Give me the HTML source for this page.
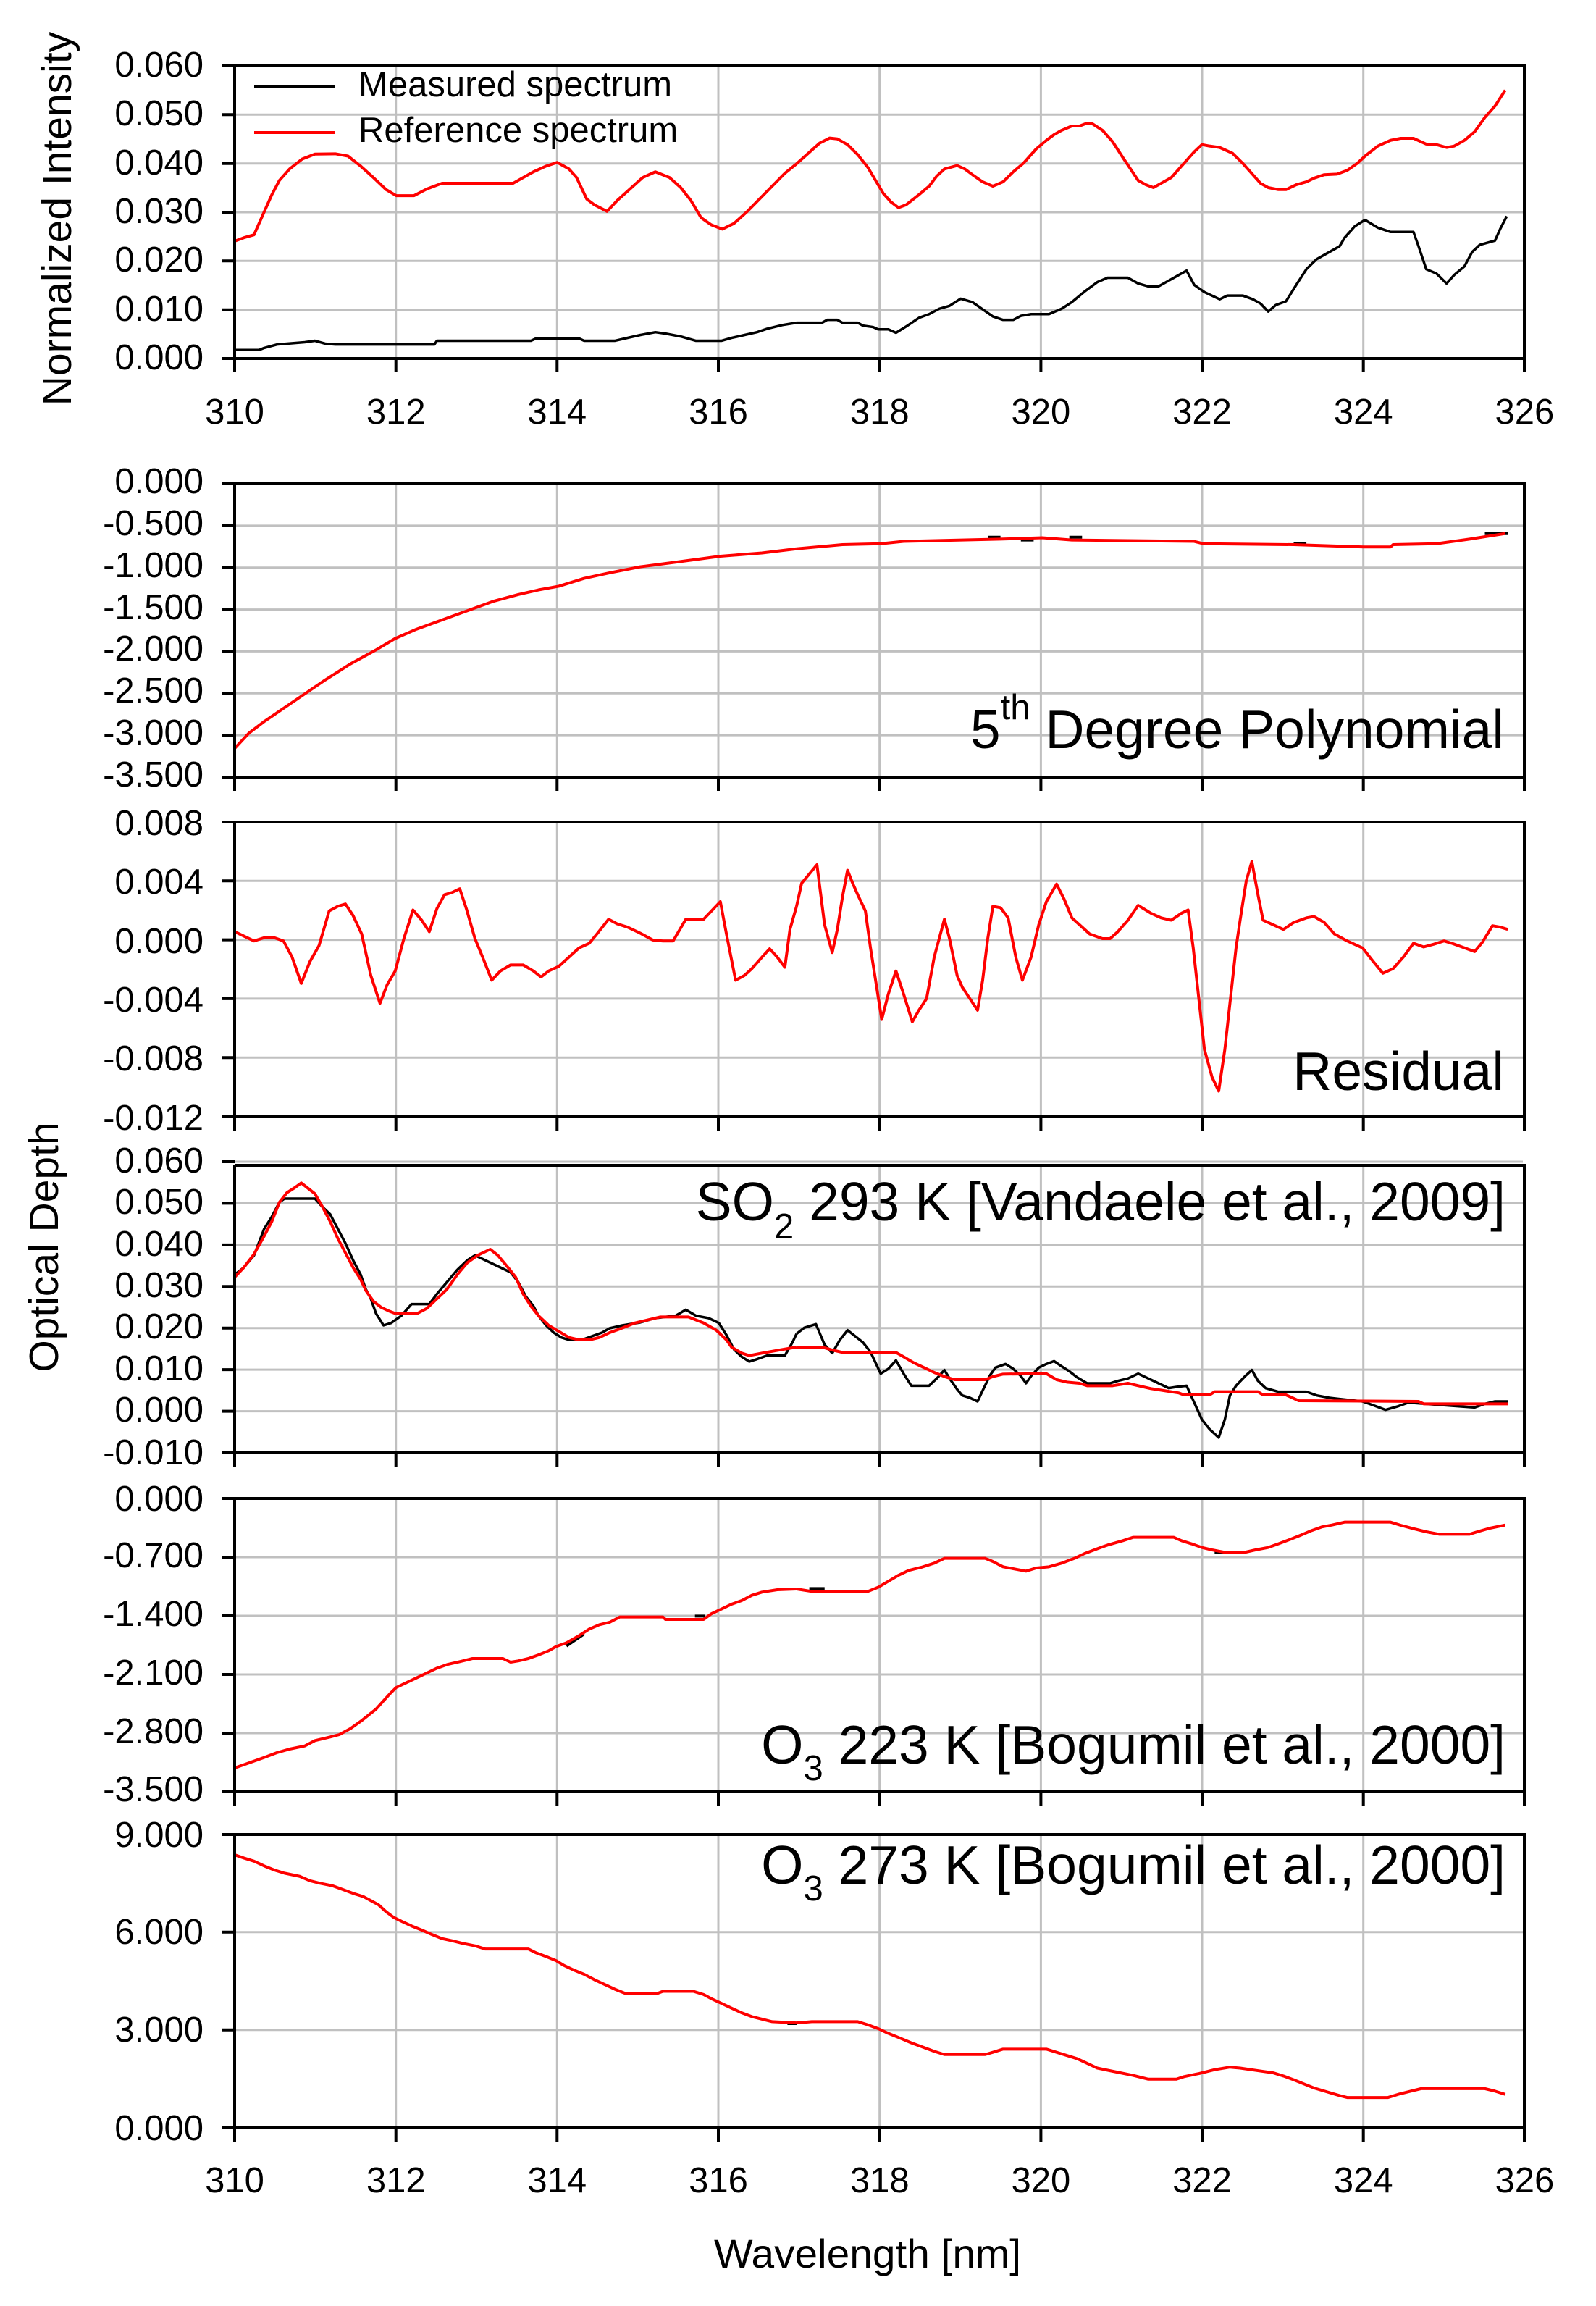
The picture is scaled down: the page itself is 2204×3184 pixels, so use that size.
<!DOCTYPE html>
<html><head><meta charset="utf-8"><style>
html,body{margin:0;padding:0;background:#fff}
svg{display:block}
text{font-family:"Liberation Sans",Arial,sans-serif;fill:#000}
.g{stroke:#c0c0c0;stroke-width:3;fill:none}
.ax{stroke:#000;stroke-width:4;fill:none}
.r{stroke:#ff0000;stroke-width:4;fill:none;stroke-linejoin:round;vector-effect:non-scaling-stroke}
.k{stroke:#000;stroke-width:3.5;fill:none;stroke-linejoin:round;vector-effect:non-scaling-stroke}
.yl{font-size:49px;text-anchor:end}
.xl{font-size:49px;text-anchor:middle}
.ann{font-size:75px;text-anchor:end}
</style></head><body>
<svg width="2204" height="3184" viewBox="0 0 2204 3184" xmlns="http://www.w3.org/2000/svg">
<rect width="2204" height="3184" fill="#fff"/>

<g class="g">
<path d="M546.7 91V495M769.3 91V495M992 91V495M1214.7 91V495M1437.4 91V495M1660 91V495M1882.7 91V495"/>
<path d="M546.7 668V1073M769.3 668V1073M992 668V1073M1214.7 668V1073M1437.4 668V1073M1660 668V1073M1882.7 668V1073"/>
<path d="M546.7 1135V1541M769.3 1135V1541M992 1135V1541M1214.7 1135V1541M1437.4 1135V1541M1660 1135V1541M1882.7 1135V1541"/>
<path d="M546.7 1609V2006M769.3 1609V2006M992 1609V2006M1214.7 1609V2006M1437.4 1609V2006M1660 1609V2006M1882.7 1609V2006"/>
<path d="M546.7 2069V2474M769.3 2069V2474M992 2069V2474M1214.7 2069V2474M1437.4 2069V2474M1660 2069V2474M1882.7 2069V2474"/>
<path d="M546.7 2533V2937M769.3 2533V2937M992 2533V2937M1214.7 2533V2937M1437.4 2533V2937M1660 2533V2937M1882.7 2533V2937"/>
<path d="M324 158.3H2105M324 225.7H2105M324 293H2105M324 360.3H2105M324 427.7H2105"/>
<path d="M324 725.9H2105M324 783.7H2105M324 841.6H2105M324 899.4H2105M324 957.3H2105M324 1015.1H2105"/>
<path d="M324 1216.3H2105M324 1297.6H2105M324 1378.9H2105M324 1460.2H2105"/>
<path d="M324 1604H2103M324 1661.4H2105M324 1718.9H2105M324 1776.3H2105M324 1833.7H2105M324 1891.1H2105M324 1948.6H2105"/>
<path d="M324 2150H2105M324 2231H2105M324 2312H2105M324 2393H2105"/>
<path d="M324 2667.8H2105M324 2802.7H2105"/>
</g>

<g transform="matrix(0.70153 0 0 0.39541 0 0)">
<polyline class="k" points="462,1222 510,1222 520,1215 545,1203 600,1195 620,1190 640,1200 660,1203 855,1203 860,1190 1045,1190 1055,1182 1140,1182 1150,1190 1210,1190 1230,1182 1260,1170 1290,1160 1310,1165 1340,1175 1370,1190 1420,1190 1440,1180 1465,1170 1490,1160 1510,1148 1540,1135 1568,1127"/>
<polyline class="r" points="462,842 480,830 500,820 520,740 535,680 550,630 570,590 595,555 620,538 660,537 685,545 710,580 735,620 760,662 780,683 815,683 840,660 870,640 1010,640 1030,620 1050,600 1075,580 1097,567 1120,590 1135,620 1155,695 1170,715 1195,738 1215,700 1240,660 1265,620 1290,600 1318,620 1340,655 1360,700 1380,760 1400,785 1422,800 1445,780 1470,740 1495,695 1520,650 1545,605 1568,572"/>
</g>
<g transform="matrix(0.70408 0 0 0.39541 1100 0)">
<polyline class="k" points="0,1127 50,1127 60,1117 80,1117 90,1127 120,1127 130,1137 150,1142 160,1150 180,1150 195,1162 215,1140 240,1110 260,1097 280,1078 300,1068 322,1043 345,1055 365,1080 385,1105 405,1117 425,1117 440,1103 460,1097 495,1097 520,1078 540,1055 565,1018 590,985 610,970 650,970 670,990 690,1000 710,1000 730,980 745,965 765,945 780,995 800,1020 830,1045 845,1032 875,1032 895,1045 910,1060 925,1088 940,1065 960,1052 980,995 1000,940 1020,905 1040,885 1065,860 1075,830 1095,790 1115,768 1140,795 1165,810 1210,810 1220,860 1235,940 1255,955 1275,990 1290,960 1310,930 1325,880 1340,855 1370,840 1380,800 1393,755"/>
<polyline class="r" points="0,572 20,540 45,500 65,482 80,485 100,505 120,540 140,585 155,630 170,675 185,705 200,725 215,715 240,680 260,650 275,615 290,590 315,578 330,590 345,610 365,635 385,650 405,635 425,600 445,570 470,520 490,490 505,470 520,455 540,440 555,440 570,430 580,432 600,455 620,495 640,550 655,590 670,630 685,645 700,655 715,640 735,620 760,570 780,530 795,505 810,510 830,515 855,535 875,570 895,610 910,640 925,655 945,662 960,662 980,645 1000,635 1015,622 1035,610 1060,608 1080,595 1100,570 1115,545 1140,510 1165,490 1185,483 1210,483 1235,503 1255,505 1275,515 1290,510 1310,490 1330,460 1350,410 1370,370 1390,315"/>
</g>

<g transform="matrix(0.70408 0 0 0.63776 1100 620)">
<path class="k" d="M375 191H400M440 197H465M535 191H560M975 205H1000M1350 183H1395" style="stroke-width:4"/>
</g>
<g transform="matrix(0.70153 0 0 0.63776 0 620)">
<polyline class="r" points="462,648 490,615 520,590 560,560 600,530 640,500 690,465 740,435 778,410 820,390 870,370 920,350 970,330 1020,315 1060,305 1100,297 1150,280 1200,268 1260,255 1330,245 1418,232 1500,225 1568,216"/>
</g>
<g transform="matrix(0.70408 0 0 0.63776 1100 620)">
<polyline class="r" points="0,216 90,207 165,205 210,200 400,195 482,192 540,197 780,200 798,205 975,207 1113,212 1165,212 1170,207 1255,205 1320,195 1390,183"/>
</g>

<g transform="matrix(0.70153 0 0 0.63776 0 620)">
<polyline class="r" points="462,1045 500,1065 520,1058 540,1058 558,1065 575,1100 593,1157 610,1110 628,1075 648,1000 665,990 680,985 695,1010 712,1050 730,1140 748,1200 762,1160 778,1130 795,1060 813,998 830,1020 845,1045 860,995 875,965 890,960 905,952 918,995 935,1060 950,1100 968,1150 985,1130 1005,1117 1030,1117 1050,1130 1065,1143 1080,1130 1100,1120 1120,1100 1140,1080 1160,1070 1175,1050 1198,1018 1215,1028 1235,1035 1260,1048 1285,1063 1305,1065 1325,1065 1350,1018 1385,1018 1418,980 1430,1050 1448,1150 1465,1140 1480,1125 1500,1100 1515,1082 1530,1100 1545,1122 1555,1040 1568,990"/>
</g>
<g transform="matrix(0.70408 0 0 0.63776 1100 620)">
<polyline class="r" points="0,990 10,940 25,920 40,900 55,1030 70,1090 80,1040 90,970 100,912 110,940 120,965 135,1000 145,1080 155,1150 167,1235 180,1180 195,1130 210,1180 227,1240 240,1215 255,1190 270,1100 290,1018 300,1060 315,1140 325,1165 340,1190 355,1215 365,1150 375,1060 385,990 400,993 415,1015 430,1100 443,1150 460,1100 475,1030 490,980 510,942 525,975 540,1015 555,1030 575,1050 600,1060 615,1060 630,1045 650,1020 670,988 695,1005 715,1015 735,1020 755,1005 768,998 778,1080 790,1200 800,1300 815,1360 828,1390 840,1300 850,1200 862,1080 870,1020 882,935 893,893 905,965 915,1020 935,1030 955,1040 975,1025 1000,1015 1015,1012 1035,1025 1055,1050 1080,1065 1110,1080 1130,1108 1150,1135 1170,1125 1190,1100 1210,1070 1230,1078 1250,1072 1270,1065 1285,1070 1310,1080 1330,1088 1345,1068 1365,1032 1380,1035 1395,1040"/>
</g>

<g transform="matrix(0.70153 0 0 0.33333 0 1560)">
<polyline class="k" points="462,600 480,570 500,520 520,410 535,360 550,300 560,285 620,285 635,320 650,350 665,410 680,470 695,540 710,600 720,660 730,700 740,760 755,810 770,800 790,770 810,722 845,722 860,680 880,630 900,580 920,540 935,520 960,545 985,570 1005,590 1020,630 1035,690 1050,730 1060,770 1075,810 1090,840 1105,860 1120,870 1145,870 1165,855 1185,840 1200,822 1225,810 1260,798 1290,780 1330,770 1350,745 1370,770 1395,780 1415,800 1430,850 1445,910 1460,940 1475,960 1490,950 1510,935 1545,935 1560,880 1568,845"/>
<polyline class="r" points="462,610 480,570 500,515 520,440 535,380 550,300 565,260 580,240 593,220 605,240 620,265 635,320 650,380 665,450 680,510 695,570 710,620 720,665 735,710 750,735 765,750 780,762 820,762 840,740 860,700 880,660 900,600 920,550 940,520 965,495 980,520 1000,570 1015,610 1030,680 1045,730 1060,770 1080,810 1100,835 1120,860 1140,870 1160,870 1180,860 1200,840 1220,825 1250,800 1280,785 1300,775 1355,775 1385,800 1410,830 1430,870 1440,900 1460,925 1475,935 1500,925 1540,910 1568,900"/>
</g>
<g transform="matrix(0.70408 0 0 0.33333 1100 1560)">
<polyline class="k" points="0,845 15,820 38,805 45,840 55,890 70,925 85,870 100,830 118,860 130,880 145,920 155,965 165,1010 180,990 195,955 210,1010 225,1060 260,1060 275,1030 290,995 300,1030 315,1075 325,1100 340,1110 355,1125 365,1080 380,1015 390,985 410,970 425,990 440,1020 450,1050 460,1020 475,985 490,970 505,958 520,980 535,1000 550,1025 570,1050 615,1050 630,1040 650,1030 670,1010 690,1030 710,1050 730,1070 745,1065 765,1060 780,1130 795,1200 810,1240 828,1275 840,1200 850,1100 862,1060 880,1020 893,995 905,1040 920,1070 945,1085 1000,1085 1020,1100 1045,1110 1065,1115 1110,1125 1130,1140 1155,1160 1180,1145 1200,1130 1330,1150 1350,1135 1370,1125 1395,1125"/>
<polyline class="r" points="0,900 50,900 70,912 90,922 195,922 210,940 230,965 250,985 270,1005 290,1022 310,1035 370,1035 385,1022 405,1012 490,1010 510,1035 530,1045 555,1050 570,1060 620,1060 650,1050 670,1060 695,1072 720,1080 750,1090 760,1098 810,1098 820,1085 905,1085 915,1098 960,1098 985,1122 1220,1125 1230,1135 1395,1135"/>
</g>

<g transform="matrix(0.70153 0 0 0.33333 0 2040)">
<path class="k" d="M1368 574H1388M1115 698L1150 648" style="stroke-width:4"/>
<polyline class="r" points="462,1203 480,1190 500,1175 520,1160 545,1140 570,1125 600,1112 620,1090 650,1075 668,1065 690,1040 710,1010 725,985 740,960 755,925 768,895 780,870 800,850 820,830 840,810 860,790 880,775 905,763 930,750 990,750 1005,765 1020,760 1040,750 1060,735 1080,718 1095,700 1115,685 1140,655 1160,628 1180,610 1200,600 1220,578 1305,578 1310,588 1385,588 1400,565 1420,545 1440,525 1460,510 1480,488 1500,475 1530,465 1568,462"/>
</g>
<g transform="matrix(0.70408 0 0 0.33333 1100 2040)">
<path class="k" d="M25 460H55M820 310H845" style="stroke-width:4"/>
<polyline class="r" points="0,462 30,472 140,472 160,455 180,430 200,405 220,385 245,372 270,355 290,335 370,335 385,348 405,370 430,380 450,388 470,375 495,370 520,355 545,335 565,315 590,295 610,280 640,262 660,248 740,248 755,262 775,275 795,290 815,300 840,310 875,312 900,300 925,290 945,275 970,255 990,238 1010,220 1030,205 1050,197 1075,185 1165,185 1185,198 1210,212 1235,225 1260,235 1320,235 1340,222 1360,210 1390,197"/>
</g>

<g transform="matrix(0.70153 0 0 0.43622 0 2500)">
<path class="k" d="M1550 674H1568" style="stroke-width:4"/>
<polyline class="r" points="462,140 480,150 500,160 520,175 540,188 560,198 590,208 610,222 630,230 655,238 675,250 695,262 715,272 730,285 745,298 760,320 775,338 790,350 810,365 830,378 850,392 870,405 890,412 910,420 935,428 955,438 1040,438 1055,450 1075,462 1095,475 1110,490 1130,505 1150,518 1170,535 1190,550 1210,565 1230,578 1295,578 1305,572 1365,572 1385,582 1400,595 1420,610 1440,625 1460,640 1480,652 1500,660 1520,668 1568,672"/>
</g>
<g transform="matrix(0.70408 0 0 0.43622 1100 2500)">
<polyline class="r" points="0,672 30,668 120,668 140,678 160,690 180,705 200,718 225,735 250,750 270,762 290,772 370,772 385,765 405,755 490,755 510,765 530,775 550,785 570,800 590,815 620,825 660,838 690,850 745,850 760,842 790,832 820,820 850,812 870,815 900,822 935,830 955,840 975,852 995,865 1015,878 1040,890 1065,902 1080,908 1160,908 1180,898 1205,888 1225,880 1350,880 1370,888 1390,898"/>
</g>

<g class="ax">
<path d="M306 91H2105V514M324 91V514M306 495H2105"/>
<path d="M306 158.3H324M306 225.7H324M306 293H324M306 360.3H324M306 427.7H324"/>
<path d="M546.7 495V514M769.3 495V514M992 495V514M1214.7 495V514M1437.4 495V514M1660 495V514M1882.7 495V514"/>
<path d="M306 668H2105V1092M324 668V1092M306 1073H2105"/>
<path d="M306 725.9H324M306 783.7H324M306 841.6H324M306 899.4H324M306 957.3H324M306 1015.1H324"/>
<path d="M546.7 1073V1092M769.3 1073V1092M992 1073V1092M1214.7 1073V1092M1437.4 1073V1092M1660 1073V1092M1882.7 1073V1092"/>
<path d="M306 1135H2105V1561M324 1135V1561M306 1541.5H2105"/>
<path d="M306 1216.3H324M306 1297.6H324M306 1378.9H324M306 1460.2H324"/>
<path d="M546.7 1541V1561M769.3 1541V1561M992 1541V1561M1214.7 1541V1561M1437.4 1541V1561M1660 1541V1561M1882.7 1541V1561"/>
<path d="M324 1609H2105V2026M324 1609V2026M306 2006H2105"/>
<path d="M306 1604H324M306 1661.4H324M306 1718.9H324M306 1776.3H324M306 1833.7H324M306 1891.1H324M306 1948.6H324"/>
<path d="M546.7 2006V2026M769.3 2006V2026M992 2006V2026M1214.7 2006V2026M1437.4 2006V2026M1660 2006V2026M1882.7 2006V2026"/>
<path d="M306 2069H2105V2493M324 2069V2493M306 2474H2105"/>
<path d="M306 2150H324M306 2231H324M306 2312H324M306 2393H324"/>
<path d="M546.7 2474V2493M769.3 2474V2493M992 2474V2493M1214.7 2474V2493M1437.4 2474V2493M1660 2474V2493M1882.7 2474V2493"/>
<path d="M306 2533H2105V2957M324 2533V2957M306 2937.5H2105"/>
<path d="M306 2667.8H324M306 2802.7H324"/>
<path d="M546.7 2937V2957M769.3 2937V2957M992 2937V2957M1214.7 2937V2957M1437.4 2937V2957M1660 2937V2957M1882.7 2937V2957"/>
</g>

<g class="yl">
<text x="281" y="106">0.060</text><text x="281" y="173">0.050</text><text x="281" y="241">0.040</text><text x="281" y="308">0.030</text><text x="281" y="375">0.020</text><text x="281" y="443">0.010</text><text x="281" y="510">0.000</text>
<text x="281" y="681">0.000</text><text x="281" y="739">-0.500</text><text x="281" y="797">-1.000</text><text x="281" y="855">-1.500</text><text x="281" y="912">-2.000</text><text x="281" y="970">-2.500</text><text x="281" y="1028">-3.000</text><text x="281" y="1086">-3.500</text>
<text x="281" y="1153">0.008</text><text x="281" y="1234">0.004</text><text x="281" y="1316">0.000</text><text x="281" y="1397">-0.004</text><text x="281" y="1478">-0.008</text><text x="281" y="1560">-0.012</text>
<text x="281" y="1619">0.060</text><text x="281" y="1676">0.050</text><text x="281" y="1734">0.040</text><text x="281" y="1791">0.030</text><text x="281" y="1848">0.020</text><text x="281" y="1906">0.010</text><text x="281" y="1963">0.000</text><text x="281" y="2022">-0.010</text>
<text x="281" y="2086">0.000</text><text x="281" y="2164">-0.700</text><text x="281" y="2245">-1.400</text><text x="281" y="2326">-2.100</text><text x="281" y="2407">-2.800</text><text x="281" y="2487">-3.500</text>
<text x="281" y="2550">9.000</text><text x="281" y="2684">6.000</text><text x="281" y="2819">3.000</text><text x="281" y="2955">0.000</text>
</g>

<g class="xl">
<text x="324" y="585">310</text><text x="546.7" y="585">312</text><text x="769.3" y="585">314</text><text x="992" y="585">316</text><text x="1214.7" y="585">318</text><text x="1437.4" y="585">320</text><text x="1660" y="585">322</text><text x="1882.7" y="585">324</text><text x="2105.4" y="585">326</text>
<text x="324" y="3027">310</text><text x="546.7" y="3027">312</text><text x="769.3" y="3027">314</text><text x="992" y="3027">316</text><text x="1214.7" y="3027">318</text><text x="1437.4" y="3027">320</text><text x="1660" y="3027">322</text><text x="1882.7" y="3027">324</text><text x="2105.4" y="3027">326</text>
</g>

<line x1="351" y1="119" x2="463" y2="119" stroke="#000" stroke-width="4"/>
<line x1="351" y1="183" x2="463" y2="183" stroke="#ff0000" stroke-width="4"/>
<text x="495" y="133" style="font-size:49px">Measured spectrum</text>
<text x="495" y="196" style="font-size:49px">Reference spectrum</text>

<text class="ann" x="2077" y="1033">5<tspan style="font-size:49px" dy="-40">th</tspan><tspan dy="40"> Degree Polynomial</tspan></text>
<text class="ann" x="2077" y="1505">Residual</text>
<text class="ann" x="2079" y="1685">SO<tspan style="font-size:49px" dy="25">2</tspan><tspan dy="-25"> 293 K [Vandaele et al., 2009]</tspan></text>
<text class="ann" x="2079" y="2435">O<tspan style="font-size:49px" dy="23">3</tspan><tspan dy="-23"> 223 K [Bogumil et al., 2000]</tspan></text>
<text class="ann" x="2079" y="2601">O<tspan style="font-size:49px" dy="23">3</tspan><tspan dy="-23"> 273 K [Bogumil et al., 2000]</tspan></text>

<text transform="translate(98,302) rotate(-90)" text-anchor="middle" style="font-size:57px">Normalized Intensity</text>
<text transform="translate(80,1722) rotate(-90)" text-anchor="middle" style="font-size:57px">Optical Depth</text>
<text x="986" y="3131" textLength="424" lengthAdjust="spacingAndGlyphs" style="font-size:56px">Wavelength [nm]</text>
</svg>
</body></html>
